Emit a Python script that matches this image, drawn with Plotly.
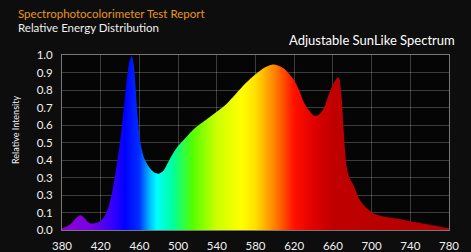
import plotly.graph_objects as go

# Data
wavelength = [380, 385, 390, 395, 399, 403, 407, 411, 416, 420, 424, 428, 432, 436, 440,
              444, 447, 450, 452, 454, 456, 458, 461, 465, 470, 475, 480, 485, 490, 495,
              500, 505, 510, 515, 520, 525, 530, 540, 550, 560, 570, 580, 590, 597, 603,
              610, 615, 620, 625, 630, 635, 641, 646, 651, 655, 660, 664, 666, 669, 671,
              674, 677, 681, 688, 695, 702, 710, 720, 730, 740, 750, 760, 770, 780]
intensity = [0.01, 0.02, 0.04, 0.07, 0.085, 0.07, 0.045, 0.037, 0.042, 0.052, 0.08, 0.13, 0.22, 0.35, 0.50,
             0.70, 0.86, 0.97, 0.995, 0.95, 0.82, 0.66, 0.50, 0.41, 0.36, 0.33, 0.322, 0.34, 0.39, 0.44,
             0.48, 0.51, 0.54, 0.57, 0.595, 0.615, 0.635, 0.676, 0.72, 0.78, 0.84, 0.89, 0.93, 0.945, 0.94,
             0.92, 0.89, 0.855, 0.80, 0.73, 0.685, 0.652, 0.66, 0.70, 0.762, 0.83, 0.866, 0.872, 0.76, 0.58,
             0.37, 0.30, 0.26, 0.17, 0.124, 0.095, 0.08, 0.07, 0.062, 0.05, 0.04, 0.03, 0.02, 0.01]

x_ticks = [380, 420, 460, 500, 540, 580, 620, 660, 700, 740, 780]
y_tickvals = [0.0, 0.1, 0.2, 0.3, 0.4, 0.5, 0.6, 0.7, 0.8, 0.9, 1.0]
y_ticktext = ["0.0", "0.1", "0.3", "0.3", "0.4", "0.5", "0.6", "0.7", "0.8", "0.9", "1.0"]

spectrum_scale = [
    [0.000, "#8a00d4"], [0.075, "#7a00e6"], [0.1375, "#2a00ff"], [0.1625, "#0000ff"],
    [0.200, "#0030ff"], [0.225, "#00b4ff"], [0.245, "#00ffff"], [0.2875, "#00ff99"],
    [0.3375, "#55ff00"], [0.400, "#ccff00"], [0.4625, "#ffff00"], [0.500, "#ffe000"],
    [0.550, "#ff8000"], [0.600, "#ff1000"], [0.650, "#e00000"], [0.700, "#c00000"],
    [1.000, "#b00000"],
]

FONT = "Lato"
fig = go.Figure()
fig.add_trace(go.Scatter(
    x=wavelength, y=intensity, mode="lines",
    line=dict(width=0, shape="spline", smoothing=0.8, color="rgba(0,0,0,0)"),
    fill="tozeroy",
    fillgradient=dict(type="horizontal", colorscale=spectrum_scale, start=380, stop=780),
    hoverinfo="skip", showlegend=False,
))

L, R, T, B = 62, 22, 55, 22
W, H = 471, 252
pw, ph = W - L - R, H - T - B

def px(x):
    return (x - L) / pw

def py(y):
    return (H - B - y) / ph

fig.update_layout(
    width=W, height=H,
    margin=dict(l=L, r=R, t=T, b=B, autoexpand=False),
    paper_bgcolor="#0d0d0d", plot_bgcolor="#050505",
    font=dict(family=FONT, color="#ffffff"),
    xaxis=dict(range=[380, 780], tickvals=x_ticks, showgrid=True, automargin=False,
               gridcolor="rgba(255,255,255,0.22)", gridwidth=1,
               showline=True, linecolor="#777777", mirror=True, zeroline=False,
               tickfont=dict(size=11.5, color="#f0f0f0", family=FONT),
               ticks="outside", ticklen=5, tickcolor="rgba(0,0,0,0)"),
    yaxis=dict(range=[0, 1.0], tickvals=y_tickvals, ticktext=y_ticktext, showgrid=True, automargin=False,
               gridcolor="rgba(255,255,255,0.22)", gridwidth=1,
               showline=True, linecolor="#777777", mirror=True, zeroline=False,
               tickfont=dict(size=11.5, color="#f0f0f0", family=FONT),
               ticks="outside", ticklen=6, tickcolor="rgba(0,0,0,0)"),
    annotations=[
        dict(text="Spectrophotocolorimeter Test Report", xref="paper", yref="paper",
             x=px(16), y=py(13), xanchor="left", yanchor="middle", showarrow=False,
             font=dict(size=11.5, color="#e8961e", family=FONT)),
        dict(text="Relative Energy Distribution", xref="paper", yref="paper",
             x=px(16), y=py(28), xanchor="left", yanchor="middle", showarrow=False,
             font=dict(size=11.5, color="#f0f0f0", family=FONT)),
        dict(text="Adjustable SunLike Spectrum", xref="paper", yref="paper",
             x=px(457), y=py(40), xanchor="right", yanchor="middle", showarrow=False,
             font=dict(size=13, color="#ffffff", family=FONT)),
        dict(text="Relative Intensity", xref="paper", yref="paper",
             x=px(15), y=py(130), xanchor="center", yanchor="middle", showarrow=False,
             textangle=-90, font=dict(size=9, color="#f0f0f0", family=FONT)),
    ],
)

fig.write_html("out.html")
